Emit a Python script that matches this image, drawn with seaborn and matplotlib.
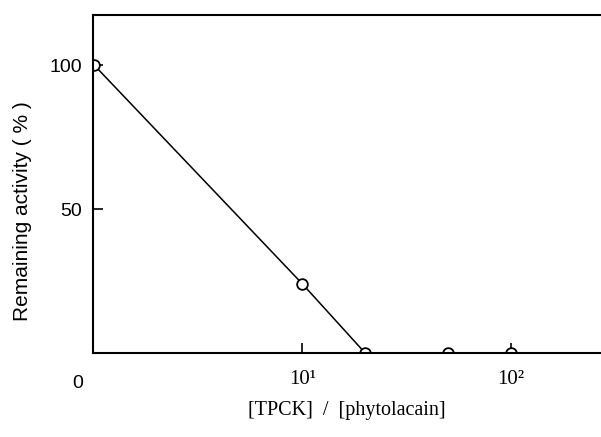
import matplotlib
matplotlib.use("Agg")
import matplotlib.pyplot as plt
import seaborn as sns
import pandas as pd

# ratio [TPCK]/[phytolacain] and remaining activity (%)
ratio = [1, 10, 20, 50, 100]
activity = [100, 24, 0, 0, 0]

df = pd.DataFrame({"ratio": ratio, "activity": activity})

sns.set_style("ticks")
plt.rcParams["font.family"] = ["Liberation Sans", "DejaVu Sans"]
plt.rcParams["text.color"] = "black"

fig = plt.figure(figsize=(6.01, 4.37), dpi=100)
ax = fig.add_axes([93 / 601, 84 / 437, 1 - 93 / 601, (353 - 15) / 437])

sns.lineplot(data=df, x="ratio", y="activity", ax=ax, color="black",
             linewidth=1.1, marker="o", markersize=7.7,
             markerfacecolor="white", markeredgecolor="black",
             markeredgewidth=1.3)

ax.set_xscale("log")
ax.set_xlim(0.985, 272)
ax.set_ylim(0, 117.5)

ax.set_xticks([10, 100])
ax.set_xticklabels(["10\u00b9", "10\u00b2"], family="Liberation Serif", fontsize=15)
ax.xaxis.set_minor_locator(matplotlib.ticker.NullLocator())
ax.set_yticks([50, 100])
ax.set_yticklabels(["50", "100"], fontsize=14)

ax.tick_params(direction="in", length=7, width=1.2, colors="black")
ax.tick_params(axis="x", pad=12)
ax.tick_params(axis="y", pad=8)

for side in ["left", "bottom", "top"]:
    ax.spines[side].set_linewidth(1.5)
    ax.spines[side].set_color("black")
ax.spines["right"].set_visible(False)

ax.set_xlabel("[TPCK]  /  [phytolacain]", family="Liberation Serif",
              fontsize=14.5, labelpad=9, color="black")
ax.set_ylabel("Remaining activity ( % )", fontsize=15, color="black")
ax.yaxis.set_label_coords(-0.12, 0.42)

fig.text(78 / 601, 1 - 383 / 437, "0", fontsize=14, ha="center", va="center",
         color="black")

fig.savefig("out.png", dpi=100)
